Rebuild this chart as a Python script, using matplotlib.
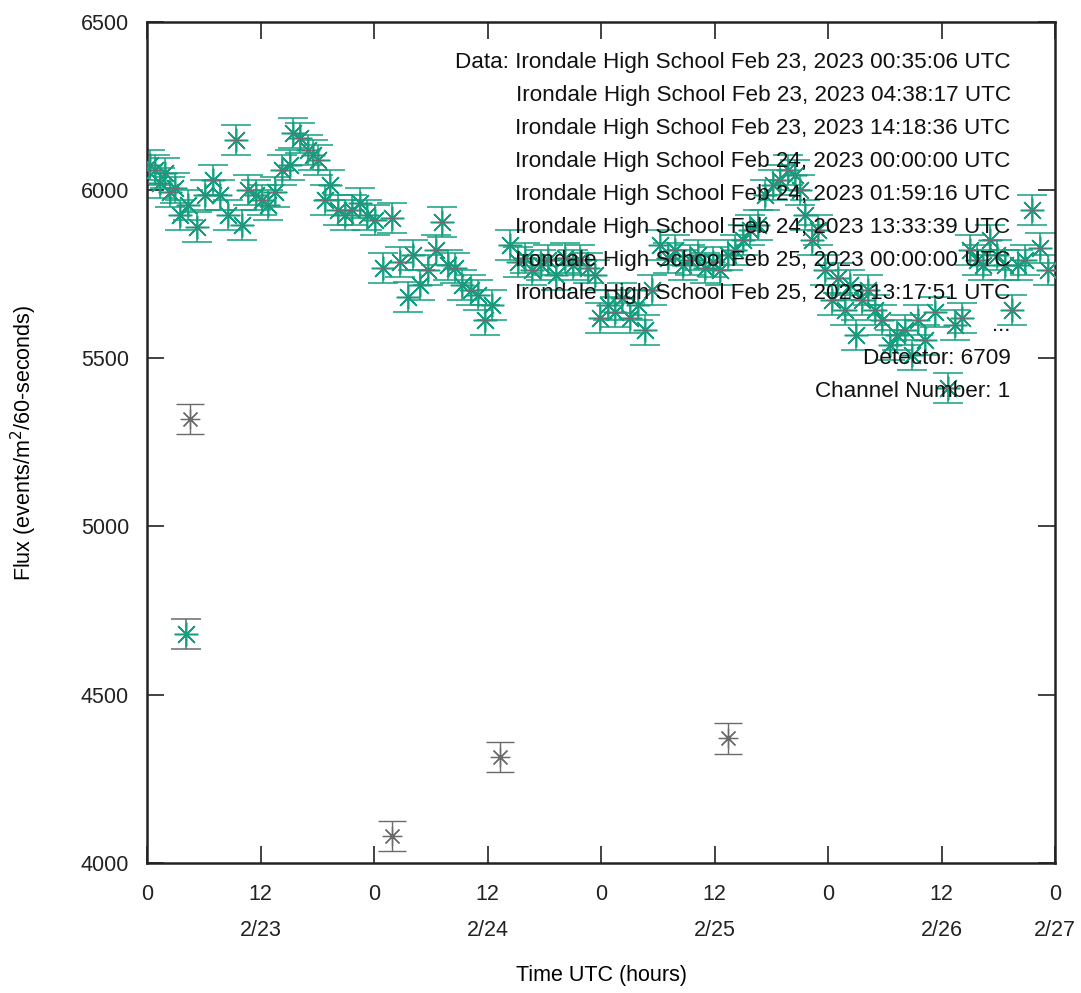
import numpy as np
import matplotlib.pyplot as plt

plt.rcParams['font.family'] = ['Liberation Sans', 'DejaVu Sans']

# Flux per detector reading, hours since the first tick
hours = [0.3, 0.8, 1.4, 1.9, 2.4, 3.0, 3.5, 4.3, 5.3, 6.1, 7.0, 7.7, 8.6, 9.4,
         10.0, 10.7, 11.5, 12.2, 12.8, 13.5, 14.3, 15.1, 15.4, 16.2, 17.0, 17.5,
         18.1, 18.8, 19.3, 20.2, 20.9, 21.7, 22.5, 23.3, 24.1, 25.0, 25.9, 26.7,
         27.6, 28.1, 28.9, 29.7, 30.5, 31.2, 31.8, 32.6, 33.3, 34.2, 35.0, 35.7,
         36.5, 38.4, 39.2, 40.0, 40.7, 41.6, 42.4, 43.2, 44.2, 45.0, 45.8, 46.6,
         47.4, 47.9, 48.7, 49.5, 50.2, 51.1, 51.9, 52.7, 53.4, 54.2, 55.1, 55.8,
         56.7, 57.4, 58.3, 59.0, 59.8, 60.6, 61.4, 62.2, 63.0, 63.8, 64.6, 65.3,
         66.2, 66.9, 67.8, 68.5, 69.0, 69.6, 70.3, 70.9, 71.7, 72.4, 73.1, 73.8,
         74.3, 75.0, 75.6, 76.2, 77.0, 77.7, 78.6, 79.3, 80.1, 80.9, 81.5, 82.3,
         83.3, 84.7, 85.4, 86.2, 87.0, 87.7, 88.4, 89.1, 89.9, 90.7, 91.5, 92.1,
         92.8, 93.6, 94.4, 95.3]
flux = [6075, 6060, 6021, 6050, 5995, 6006, 5926, 5956, 5890, 5986, 6030, 5986,
        5926, 6149, 5897, 6000, 5986, 5970, 5956, 5995, 6060, 6075, 6170, 6155,
        6120, 6105, 6090, 5970, 6015, 5941, 5926, 5941, 5962, 5926, 5911, 5769,
        5917, 5787, 5683, 5807, 5718, 5763, 5822, 5905, 5778, 5769, 5718, 5703,
        5688, 5614, 5659, 5837, 5787, 5798, 5763, 5778, 5793, 5748, 5798, 5778,
        5793, 5769, 5748, 5620, 5659, 5638, 5680, 5620, 5659, 5584, 5703, 5837,
        5798, 5822, 5778, 5793, 5807, 5769, 5787, 5763, 5807, 5822, 5852, 5882,
        5897, 5986, 6015, 6030, 6060, 6045, 6000, 5926, 5852, 5882, 5763, 5673,
        5739, 5644, 5718, 5570, 5673, 5703, 5644, 5614, 5540, 5570, 5584, 5510,
        5614, 5555, 5638, 5412, 5599, 5620, 5822, 5793, 5778, 5852, 5807, 5778,
        5644, 5778, 5793, 5941, 5828, 5763]

# Low readings from the same runs
low_hours = [4.1]
low_flux = [4680]
drop_hours = [4.5, 25.9, 37.3, 61.4]
drop_flux = [5320, 4080, 4315, 4370]

flux_err = 45

hour_ticks = [0, 12, 24, 36, 48, 60, 72, 84, 96]
hour_labels = ['0', '12\n2/23', '0', '12\n2/24', '0', '12\n2/25', '0', '12\n2/26', '0\n2/27']
flux_ticks = [4000, 4500, 5000, 5500, 6000, 6500]

info_lines = [
    'Data: Irondale High School Feb 23, 2023 00:35:06 UTC',
    'Irondale High School Feb 23, 2023 04:38:17 UTC',
    'Irondale High School Feb 23, 2023 14:18:36 UTC',
    'Irondale High School Feb 24, 2023 00:00:00 UTC',
    'Irondale High School Feb 24, 2023 01:59:16 UTC',
    'Irondale High School Feb 24, 2023 13:33:39 UTC',
    'Irondale High School Feb 25, 2023 00:00:00 UTC',
    'Irondale High School Feb 25, 2023 13:17:51 UTC',
    '...',
    'Detector: 6709',
    'Channel Number: 1',
]

teal = '#13a080'
grey = '#6a6a6a'
star = (8, 2, 0)
fs = 15.5

fig = plt.figure(figsize=(10.81, 9.93), dpi=100)
ax = fig.add_axes([0.136, 0.131, 0.840, 0.847])

ax.errorbar(hours, flux, yerr=flux_err, fmt='none', ecolor=teal, elinewidth=1.1,
            capsize=11, capthick=1.1, zorder=2)
ax.plot(hours, flux, linestyle='none', marker=star, markersize=17, markeredgewidth=1.1,
        color=teal, zorder=3)
ax.plot(hours, flux, linestyle='none', marker='_', markersize=9, markeredgewidth=1.0,
        color='#d8306a', alpha=0.5, zorder=4)

ax.errorbar(low_hours, low_flux, yerr=flux_err, fmt='none', ecolor=grey, elinewidth=1.1,
            capsize=11, capthick=1.1, zorder=2)
ax.plot(low_hours, low_flux, linestyle='none', marker=star, markersize=17,
        markeredgewidth=1.1, color=teal, zorder=3)
ax.plot(low_hours, low_flux, linestyle='none', marker='x', markersize=12,
        markeredgewidth=0.8, color='#e05070', alpha=0.5, zorder=2)

ax.errorbar(drop_hours, drop_flux, yerr=flux_err, fmt='none', ecolor=grey, elinewidth=1.0,
            capsize=10, capthick=1.0, zorder=2)
ax.plot(drop_hours, drop_flux, linestyle='none', marker=star, markersize=14,
        markeredgewidth=0.9, color=grey, zorder=3)

ax.set_xlim(0, 96)
ax.set_ylim(4000, 6500)
ax.set_xticks(hour_ticks)
ax.set_xticklabels(hour_labels, fontsize=fs, linespacing=1.95)
ax.set_yticks(flux_ticks)
ax.set_yticklabels([str(v) for v in flux_ticks], fontsize=fs)
ax.tick_params(direction='in', length=12, width=1.2, top=True, right=True,
               pad=15, colors='#222222')
ax.tick_params(axis='y', pad=13)
for side in ax.spines.values():
    side.set_linewidth(1.8)
    side.set_color('#222222')

ax.set_xlabel('Time UTC (hours)', fontsize=fs, labelpad=17)
ax.set_ylabel('Flux (events/m$^2$/60-seconds)', fontsize=fs, labelpad=30)

for i, line in enumerate(info_lines):
    ax.text(0.951, 0.952 - i * 0.0392, line, transform=ax.transAxes, ha='right',
            va='center', fontsize=16.2, color='#111111', zorder=5)

fig.savefig('out.png', dpi=100)
